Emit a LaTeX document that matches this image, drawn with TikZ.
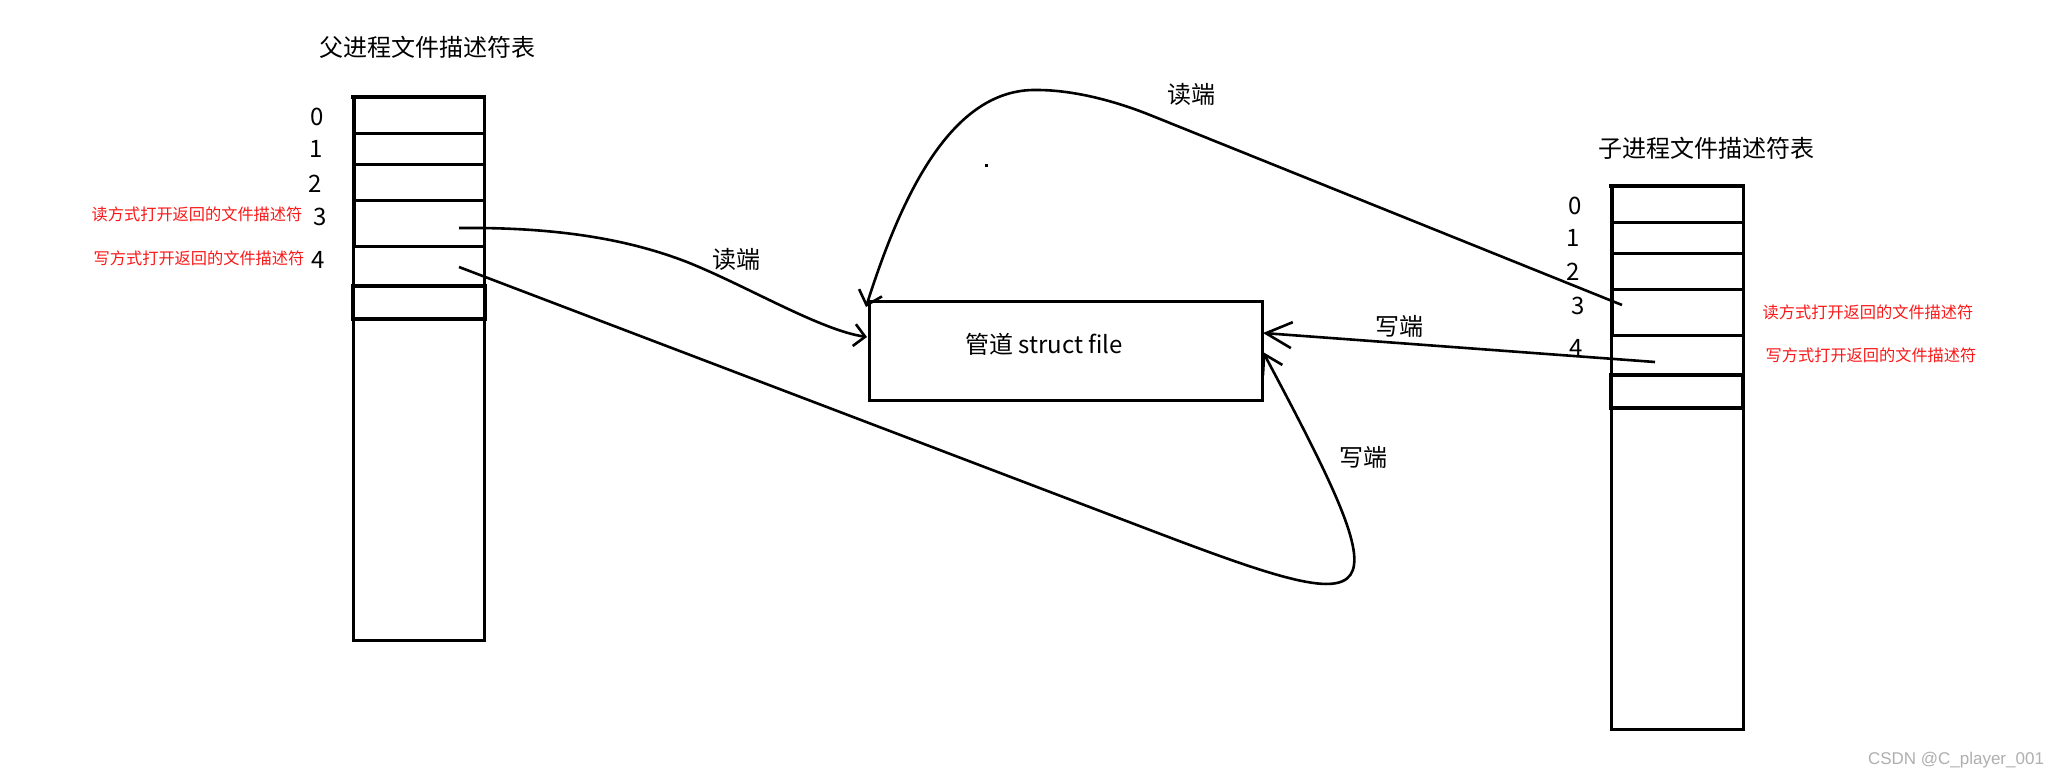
\documentclass[tikz,border=0pt]{standalone}
\usepackage{fontspec}
\setmainfont{Noto Sans CJK SC}
\newfontfamily\wmfont{Liberation Sans}
\usetikzlibrary{arrows.meta}
\definecolor{fdred}{RGB}{250,25,25}
\definecolor{wmgray}{RGB}{175,175,175}
\begin{document}
\begin{tikzpicture}[x=1pt,y=-1pt,
  cell/.style={line width=3pt},
  heavy/.style={line width=4.5pt},
  link/.style={line width=2.6pt},
  big/.style={font=\fontsize{24}{28}\selectfont, inner sep=0pt},
  note/.style={font=\fontsize{16.2}{19}\selectfont, text=fdred, inner sep=0pt},
  pipebox/.style={draw, line width=3pt, inner sep=0pt, minimum width=393pt, minimum height=99pt, anchor=north west}
]
\useasboundingbox[fill=white] (0,0) rectangle (2057,777);

% ---------- left table ----------
\draw[cell] (353,97) rectangle (484,640);
\draw[heavy] (351,97) -- (486,97);
\draw[heavy] (354,97) -- (354,246);
\foreach \y in {133,164,200,246} \draw[cell] (353,\y) -- (484,\y);
\draw[heavy] (353,286) rectangle (485,319);

\node[big] (ltitle) at (427,47) {父进程文件描述符表};
\node[big] (l0) at (317,117) {0};
\node[big] (l1) at (316,149) {1};
\node[big] (l2) at (315,184) {2};
\node[big] (l3n) at (320,217) {3};
\node[big] (l4n) at (318,260) {4};
\node[note] (lread) at (197,214) {读方式打开返回的文件描述符};
\node[note] (lwrite) at (199,258) {写方式打开返回的文件描述符};

% ---------- right table ----------
\draw[cell] (1611,186) rectangle (1743,729);
\draw[heavy] (1609,186) -- (1745,186);
\draw[heavy] (1612,186) -- (1612,335);
\foreach \y in {222,253,289,335} \draw[cell] (1611,\y) -- (1743,\y);
\draw[heavy] (1611,375) rectangle (1743,408);

\node[big] (rtitle) at (1706,148) {子进程文件描述符表};
\node[big] (r0) at (1575,206) {0};
\node[big] (r1) at (1573,238) {1};
\node[big] (r2) at (1573,272) {2};
\node[big] (r3n) at (1578,306) {3};
\node[big] (r4n) at (1576,348) {4};
\node[note] (rread) at (1868,312) {读方式打开返回的文件描述符};
\node[note] (rwrite) at (1871,355) {写方式打开返回的文件描述符};

% ---------- pipe ----------
\node[pipebox] (pipe) at (868,300) {};
\node[font=\fontsize{24}{28}\selectfont, inner sep=0pt] (pipetext) at (1044,344) {管道 struct file};

% ---------- connector ends ----------
\coordinate (l3) at (459,228);
\coordinate (l4) at (459,267);
\coordinate (r3) at (1622,305);
\coordinate (r4) at (1655,362);
\coordinate (pA) at (867,337);
\coordinate (pB) at (866,307);
\coordinate (pC) at (1263,352);
\coordinate (pD) at (1263,333);

% ---------- connectors ----------
\draw[link, -{Straight Barb[length=11pt,width=22pt]}]
  (l3) .. controls (560,227) and (630,240) .. (687,262)
       .. controls (747,286) and (820,330) .. (pA);
\draw[link, -{Straight Barb[length=13pt,width=24pt]}]
  (r3) -- (1150,115) .. controls (1110,99) and (1070,90) .. (1037,90)
       .. controls (950,88) and (900,200) .. (pB);
\draw[link, -{Straight Barb[length=18pt,width=22pt]}]
  (l4) -- (1150,530) .. controls (1392,622) and (1404,616) .. (pC);
\draw[link, -{Straight Barb[length=26pt,width=26pt]}]
  (r4) -- (pD);

\node[big] (readA) at (736,259) {读端};
\node[big] (readB) at (1191,94) {读端};
\node[big] (writeD) at (1399,326) {写端};
\node[big] (writeC) at (1363,457) {写端};

\fill (984.5,163.5) rectangle (987.5,166.5);

\node[font=\wmfont\fontsize{17}{20}\selectfont, text=wmgray, inner sep=0pt] (wm) at (1956,760) {CSDN @C\_player\_001};
\end{tikzpicture}
\end{document}
